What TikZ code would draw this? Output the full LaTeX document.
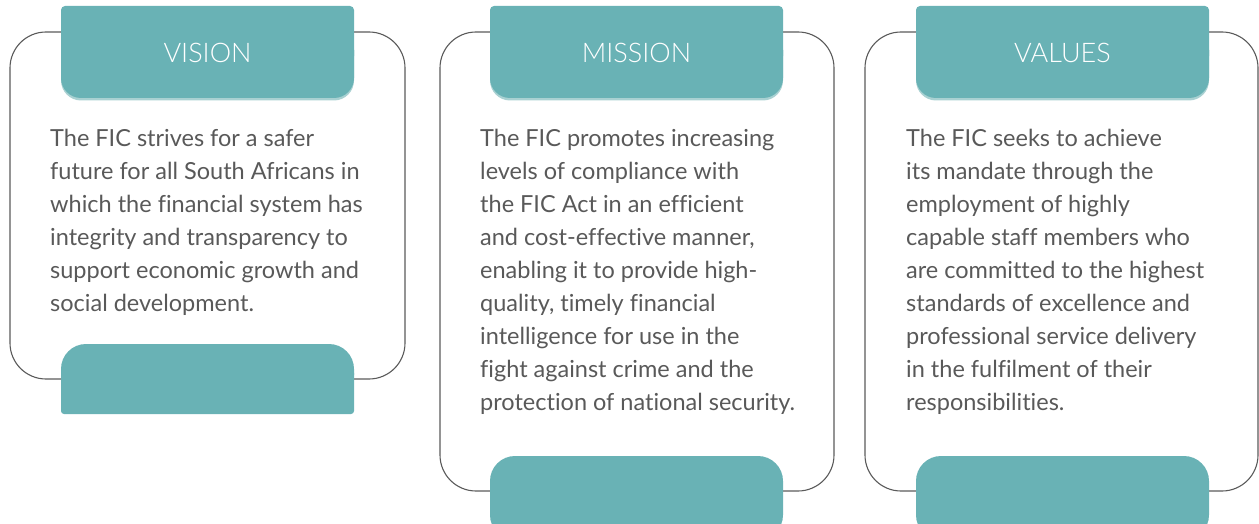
\documentclass[tikz,border=0pt]{standalone}
\usepackage{fontspec}
\setmainfont{Lato}[Ligatures=NoCommon]
\newfontfamily\headfont{Lato Light}
\definecolor{tealc}{HTML}{69B2B5}
\definecolor{shadc}{HTML}{A9D1D2}
\definecolor{linec}{HTML}{5A5A5A}
\definecolor{textc}{HTML}{595959}
\tikzset{
  outline/.style={draw=linec, line width=1.1pt, rounded corners=36pt},
  bodytext/.style={anchor=north west, inner sep=0pt, align=left, text=textc, font=\fontsize{23.5}{33}\selectfont},
  headtext/.style={inner sep=0pt, text=white, font=\headfont\fontsize{27}{30}\selectfont},
}
\begin{document}
\begin{tikzpicture}[x=1pt,y=-1pt]
\useasboundingbox (0,0) rectangle (1259,524);
% outlines
\draw[outline] (10,32) rectangle (405,379);
\draw[outline] (440,32) rectangle (834,491);
\draw[outline] (865,32) rectangle (1258,491);
% top tabs
\foreach \x in {61,490,916}{
  \fill[shadc, rounded corners=20pt] (\x,30) rectangle ({\x+293},100.5);
  \fill[tealc, rounded corners=4pt] (\x,6) rectangle ({\x+293},60);
  \fill[tealc, rounded corners=20pt] (\x,30) rectangle ({\x+293},98);
}
% bottom tabs
\fill[tealc, rounded corners=25pt] (61,344) rectangle (354,400);
\fill[tealc, rounded corners=3pt] (61,370) rectangle (354,414);
\fill[tealc, rounded corners=25pt] (490,456) rectangle (783,540);
\fill[tealc, rounded corners=25pt] (916,456) rectangle (1209,540);
% headers
\node[headtext] (h1) at (207.5,53) {VISION};
\node[headtext] (h2) at (636.5,53) {MISSION};
\node[headtext] (h3) at (1062.5,53) {VALUES};
% body
\node[bodytext] (b1) at (50,123) {\strut The FIC strives for a safer\\
future for all South Africans in\\
which the financial system has\\
integrity and transparency to\\
support economic growth and\\
social development.};
\node[bodytext] (b2) at (480,123) {\strut The FIC promotes increasing\\
levels of compliance with\\
the FIC Act in an efficient\\
and cost-effective manner,\\
enabling it to provide high-\\
quality, timely financial\\
intelligence for use in the\\
fight against crime and the\\
protection of national security.};
\node[bodytext] (b3) at (906,123) {\strut The FIC seeks to achieve\\
its mandate through the\\
employment of highly\\
capable staff members who\\
are committed to the highest\\
standards of excellence and\\
professional service delivery\\
in the fulfilment of their\\
responsibilities.};
\end{tikzpicture}
\end{document}
